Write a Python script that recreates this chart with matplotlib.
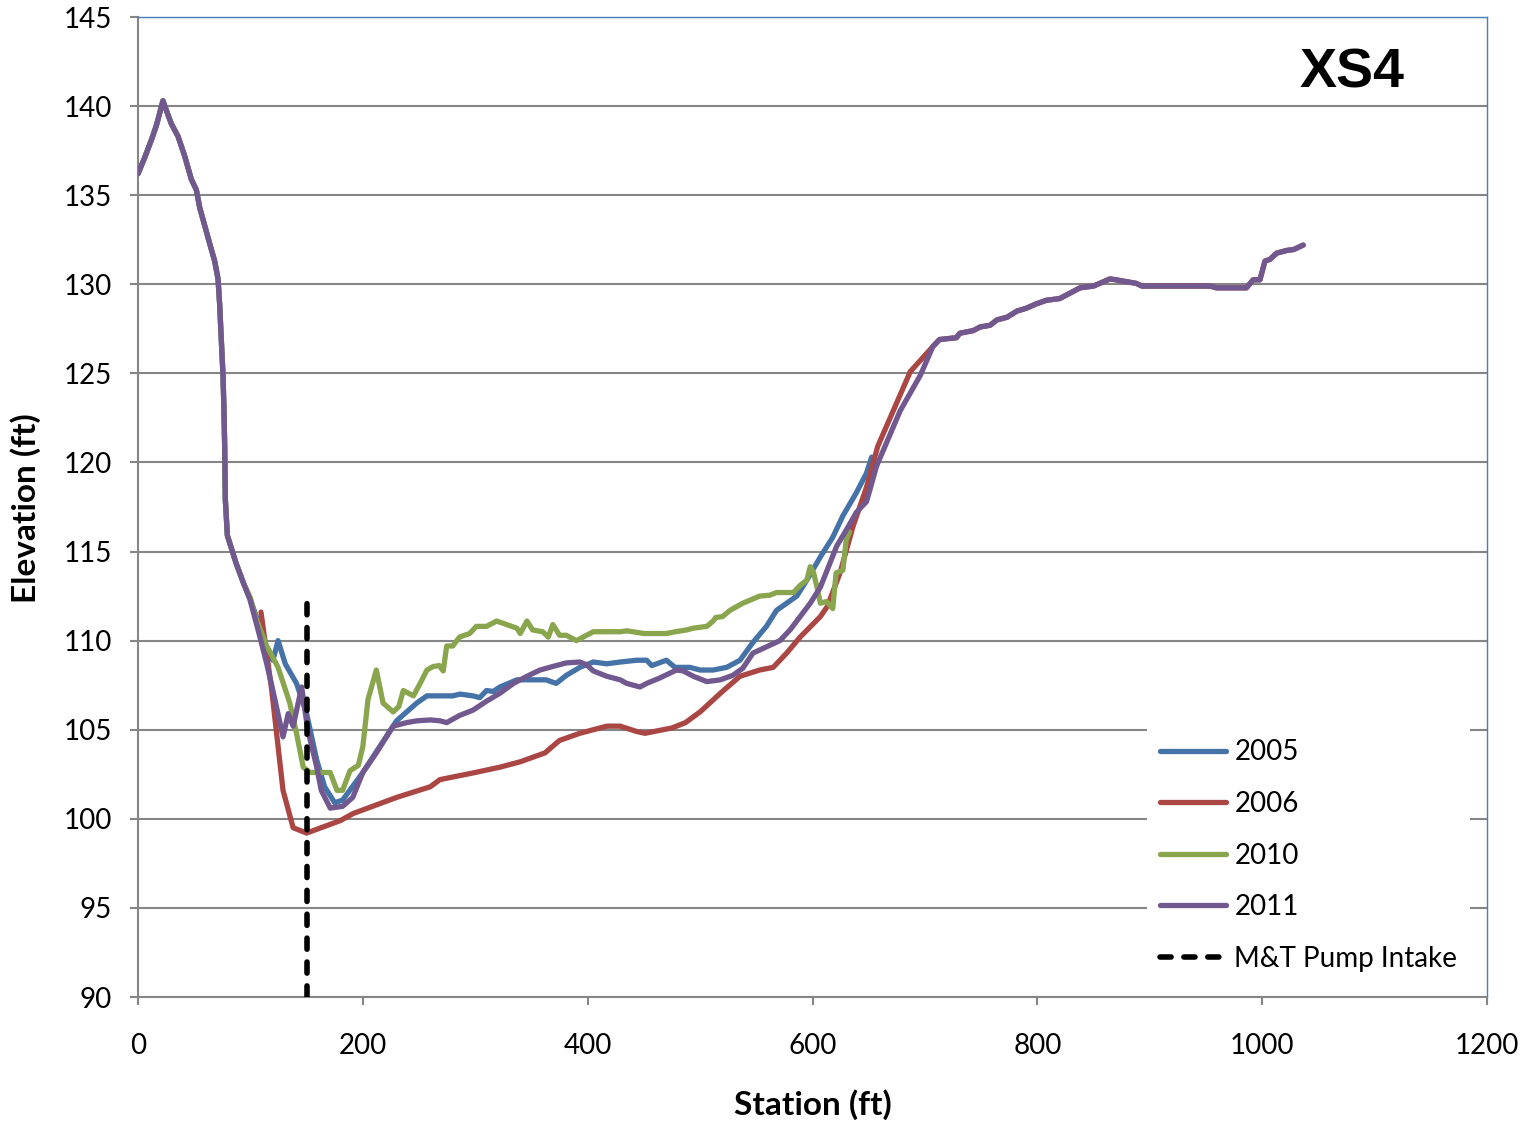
import matplotlib
matplotlib.use("Agg")
import matplotlib.pyplot as plt
import numpy as np

# ---------------- data ----------------
# shared left-bank profile (2005, 2010, 2011)
left_st = [0, 5.9, 11.9, 16.3, 22.2, 26.7, 29.7, 35.6, 41.5, 47.4, 51.9, 54.9, 59.3,
           63.7, 68.2, 71.2, 72.6, 74.1, 75.6, 76.5, 77.1, 77.7, 79.5, 81.5, 87.5, 94.0]
left_el = [136.2, 137.1, 138.1, 138.9, 140.3, 139.5, 139.0, 138.3, 137.2, 135.9, 135.3,
           134.3, 133.3, 132.3, 131.3, 130.3, 128.9, 126.9, 124.9, 122.9, 120.9, 117.9,
           115.9, 115.5, 114.3, 113.2]

# shared right-bank profile (2006, 2011)
right_st = [707, 713, 728, 731, 743, 749, 758, 764, 773, 782, 790, 799, 808, 820, 826,
            838, 850, 864.6, 870, 879, 888, 893, 953.6, 959.5, 986, 992, 998, 1002.5,
            1007, 1013, 1022, 1028, 1036.5]
right_el = [126.5, 126.9, 127.0, 127.25, 127.4, 127.6, 127.7, 128.0, 128.15, 128.5, 128.65,
            128.9, 129.1, 129.2, 129.4, 129.8, 129.9, 130.3, 130.25, 130.15, 130.05, 129.9,
            129.9, 129.8, 129.8, 130.25, 130.25, 131.3, 131.4, 131.75, 131.9, 131.95, 132.2]

st_2005 = [100, 106, 112, 120, 124.6, 131, 141, 150, 159, 166, 175, 182, 200, 215, 230,
           248, 257, 280, 286.5, 298, 304, 310, 316, 322, 337, 354.6, 363, 372, 381, 393,
           405, 417, 429, 443.6, 452.5, 457, 470, 477.7, 491, 500, 511.5, 523.6, 535.5,
           547, 559, 568, 577, 586, 595, 607, 618, 627, 639, 648, 652.6]
el_2005 = [112.3, 111.2, 109.8, 108.9, 110.0, 108.7, 107.6, 105.9, 103.3, 101.8, 100.9,
           101.05, 102.6, 104.05, 105.5, 106.5, 106.9, 106.9, 107.0, 106.9, 106.8, 107.2,
           107.15, 107.4, 107.8, 107.8, 107.8, 107.6, 108.05, 108.5, 108.8, 108.7, 108.8,
           108.9, 108.9, 108.6, 108.9, 108.5, 108.5, 108.35, 108.35, 108.5, 108.9, 109.9,
           110.8, 111.7, 112.1, 112.5, 113.4, 114.7, 115.8, 117.0, 118.3, 119.4, 120.3]

st_2006 = [109.4, 119, 129, 138, 150, 180, 191.5, 230, 260, 268.6, 300, 322, 340, 362,
           375, 393, 417, 429, 443.6, 451, 475, 487, 500, 519, 535.5, 553, 565, 577, 589,
           607, 613, 624.5, 636, 648, 658, 687]
el_2006 = [111.6, 107.2, 101.6, 99.5, 99.2, 99.9, 100.3, 101.2, 101.8, 102.2, 102.6, 102.9,
           103.2, 103.7, 104.4, 104.8, 105.2, 105.2, 104.9, 104.8, 105.1, 105.4, 106.0,
           107.1, 108.0, 108.35, 108.5, 109.3, 110.2, 111.35, 111.9, 113.8, 116.4, 118.6,
           120.9, 125.1]

st_2010 = [100, 104, 114.5, 124.6, 135, 141, 147, 153, 168, 171, 177, 182, 188.6, 196,
           200, 204.6, 212, 218, 227, 232, 236, 245, 251, 257, 262.6, 268, 271.5, 274.6,
           280, 286, 295, 301, 310, 319, 328, 337, 340, 346, 351, 360, 365, 369, 375, 381,
           390, 396, 405, 429, 435, 440, 450, 470, 478, 488, 494, 506, 511.6, 514, 520,
           526.6, 538, 553, 562, 568, 583, 589, 595, 598, 601, 604, 607, 612.6, 618, 621,
           627, 630, 633]
el_2010 = [112.4, 111.4, 109.7, 108.5, 106.5, 104.8, 102.9, 102.6, 102.6, 102.6, 101.6,
           101.6, 102.7, 103.0, 104.05, 106.7, 108.35, 106.5, 106.0, 106.3, 107.2, 106.9,
           107.6, 108.35, 108.55, 108.6, 108.3, 109.7, 109.7, 110.2, 110.4, 110.8, 110.8,
           111.1, 110.9, 110.7, 110.4, 111.1, 110.6, 110.5, 110.2, 110.9, 110.3, 110.3,
           110.0, 110.2, 110.5, 110.5, 110.55, 110.5, 110.4, 110.4, 110.5, 110.6, 110.7,
           110.8, 111.1, 111.3, 111.35, 111.7, 112.1, 112.5, 112.55, 112.7, 112.7, 113.1,
           113.4, 114.15, 113.8, 113.0, 112.1, 112.2, 111.8, 113.8, 113.95, 115.65, 116.1]

st_2011 = [99.6, 108.5, 114.5, 120, 129, 133.6, 138, 145.6, 151, 159, 163, 171, 182, 191,
           200, 212, 227, 239, 248, 260, 268.6, 274.6, 286, 298, 310, 322, 334, 346, 357.6,
           369, 381, 393, 399, 405, 417, 429, 434.7, 446.5, 452.5, 464, 479, 485, 494, 506,
           518, 529, 538, 547, 559, 571, 580, 589, 598, 607, 613, 621.5, 630, 639, 648,
           651, 657, 678, 696]
el_2011 = [112.3, 110.2, 108.7, 107.2, 104.6, 105.9, 105.2, 107.4, 105.0, 102.9, 101.6,
           100.6, 100.7, 101.2, 102.6, 103.7, 105.2, 105.4, 105.5, 105.55, 105.5, 105.4,
           105.8, 106.1, 106.6, 107.05, 107.6, 108.0, 108.35, 108.55, 108.75, 108.8, 108.65,
           108.3, 108.0, 107.8, 107.6, 107.4, 107.6, 107.9, 108.35, 108.3, 108.0, 107.7,
           107.8, 108.05, 108.45, 109.3, 109.65, 110.0, 110.6, 111.35, 112.1, 113.0, 113.95,
           115.3, 116.2, 117.2, 117.8, 118.45, 119.8, 122.9, 124.9]

intake_station = 150
intake_el = [90, 112.5]

series_labels = ["2005", "2006", "2010", "2011"]
intake_label = "M&T Pump Intake"
title_text = "XS4"
x_ticks = [0, 200, 400, 600, 800, 1000, 1200]
y_ticks = [90, 95, 100, 105, 110, 115, 120, 125, 130, 135, 140, 145]

# ---------------- assemble ----------------
x05 = left_st + st_2005
y05 = left_el + el_2005
x06 = st_2006 + right_st
y06 = el_2006 + right_el
x10 = left_st + st_2010
y10 = left_el + el_2010
x11 = left_st + st_2011 + right_st
y11 = left_el + el_2011 + right_el

colors = ["#4572A7", "#AA4643", "#89A54E", "#71588F"]

plt.rcParams['font.family'] = ['Lato', 'DejaVu Sans']
fig = plt.figure(figsize=(15.28, 11.26), dpi=100)
ax = fig.add_axes([138/1528, 1-997/1126, (1487-138)/1528, (997-17)/1126])

lw = 3.8
for xs, ys, c, lab in zip([x05, x06, x10, x11], [y05, y06, y10, y11], colors, series_labels):
    ax.plot(xs, ys, color=c, lw=lw, label=lab, solid_joinstyle='round', solid_capstyle='round', zorder=3)

ax.plot([intake_station, intake_station], intake_el, color='black', lw=4.0,
        dashes=(2.0, 2.3), dash_capstyle='round', label=intake_label, zorder=4)

ax.set_xlim(0, 1200)
ax.set_ylim(90, 145)
ax.set_xticks(x_ticks)
ax.set_yticks(y_ticks)
ax.yaxis.grid(True, color='#868686', lw=1.5, zorder=0)
ax.set_axisbelow(True)

for s in ['left', 'bottom']:
    ax.spines[s].set_color('#868686')
    ax.spines[s].set_linewidth(1.5)
for s in ['top', 'right']:
    ax.spines[s].set_color('#4A7EBB')
    ax.spines[s].set_linewidth(1.0)

ax.tick_params(axis='both', direction='out', length=6, width=1.5, color='#868686',
               labelsize=20, labelcolor='black')
ax.tick_params(axis='y', pad=13)
ax.tick_params(axis='x', pad=20)

ax.set_xlabel("Station (ft)", fontsize=24, fontweight='bold', va='center')
ax.xaxis.set_label_coords(0.5, -0.110)
ax.set_ylabel("Elevation (ft)", fontsize=24, fontweight='bold', va='center')
ax.yaxis.set_label_coords(-0.0830, 0.499)

ax.text(0.900, 0.942, title_text, transform=ax.transAxes, fontsize=40, fontweight='bold',
        family='Liberation Sans', ha='center', va='center')

leg = ax.legend(loc='upper left', bbox_to_anchor=(1147/1528, 1-727/1126),
                bbox_transform=fig.transFigure, fontsize=20, frameon=True,
                facecolor='white', edgecolor='none', framealpha=1, fancybox=False,
                handlelength=2.4, handletextpad=0.3, labelspacing=0.92, borderpad=0.45,
                borderaxespad=0)
leg.set_zorder(5)
for h in leg.get_lines():
    h.set_solid_capstyle('round')

fig.savefig("out.png", dpi=100)
